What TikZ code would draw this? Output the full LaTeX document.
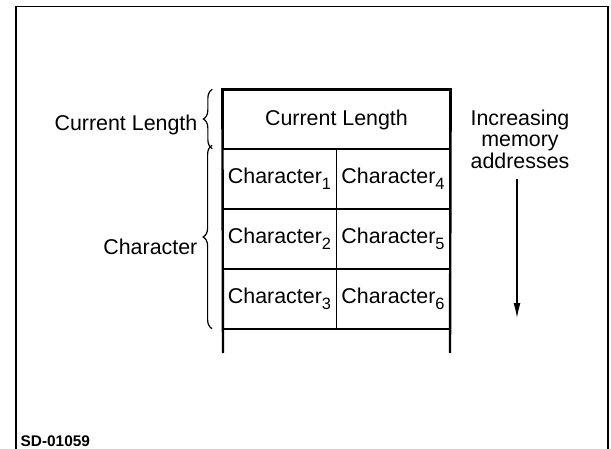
\documentclass[tikz,border=0pt]{standalone}
\usepackage{fontspec}
\setmainfont{Liberation Sans}
\usepackage{tikz}
\usetikzlibrary{positioning}
\usetikzlibrary{calc}
\usetikzlibrary{decorations.pathreplacing}
\usetikzlibrary{arrows.meta}
\newcommand{\lowidx}[1]{\raisebox{-0.5ex}{\fontsize{8.2}{9}\selectfont #1}}
\tikzset{every picture/.style={x=0.5pt,y=-0.5pt,line width=0.65pt},
cell/.style={draw,inner sep=0pt,minimum width=56.75pt,minimum height=30pt,font=\fontsize{10.7}{12}\selectfont},
lbl/.style={inner sep=0pt,font=\fontsize{10.7}{12}\selectfont},
sidebrace/.style={decorate,decoration={brace,amplitude=4.5pt},line width=0.6pt}}

\begin{document}
\begin{tikzpicture}
\useasboundingbox (0,0) rectangle (611,449);
\draw[line width=0.8pt] (16,449) -- (16,6.5) -- (608,6.5) -- (608,449);
\node (hdr) at (336.5,119.5) [cell,minimum width=113.5pt,minimum height=29.5pt] {Current Length};
\foreach \r/\s in {1/4, 2/5, 3/6} {
\node (l\r) at (279.5,{119+60*\r}) [cell] {Character\lowidx{\r}};
\node (r\r) at (393,{119+60*\r}) [cell] {Character\lowidx{\s}};
}
\coordinate (bl) at (223,353);
\coordinate (br) at (450,353);
\draw[line width=1.2pt] (bl) -- (hdr.north west) -- (hdr.north east) -- (br);
\draw[sidebrace] ($(hdr.south west)+(-10,-1)$) -- ($(hdr.north west)+(-10,0)$);
\draw[sidebrace] ($(l3.south west)+(-10,-1)$) -- ($(l1.north west)+(-10,-3)$);
\node (lenlbl) [lbl,anchor=east] at (198,125) {Current Length};
\node (charlbl) [lbl,anchor=east] at (198,247) {Character};
\node (incr) [lbl,align=center,font=\fontsize{10.7}{10.8}\selectfont] at (520,139) {Increasing\\memory\\addresses};
\coordinate (arrtail) at (517,179);
\coordinate (arrtip) at (517,318);
\draw[-{Latex[length=7.5pt,width=3.5pt]}] (arrtail) -- (arrtip);
\node (sdnum) [lbl,anchor=west,font=\fontsize{7.7}{9}\selectfont\bfseries] at (20,441) {SD-01059};
\end{tikzpicture}
\end{document}
